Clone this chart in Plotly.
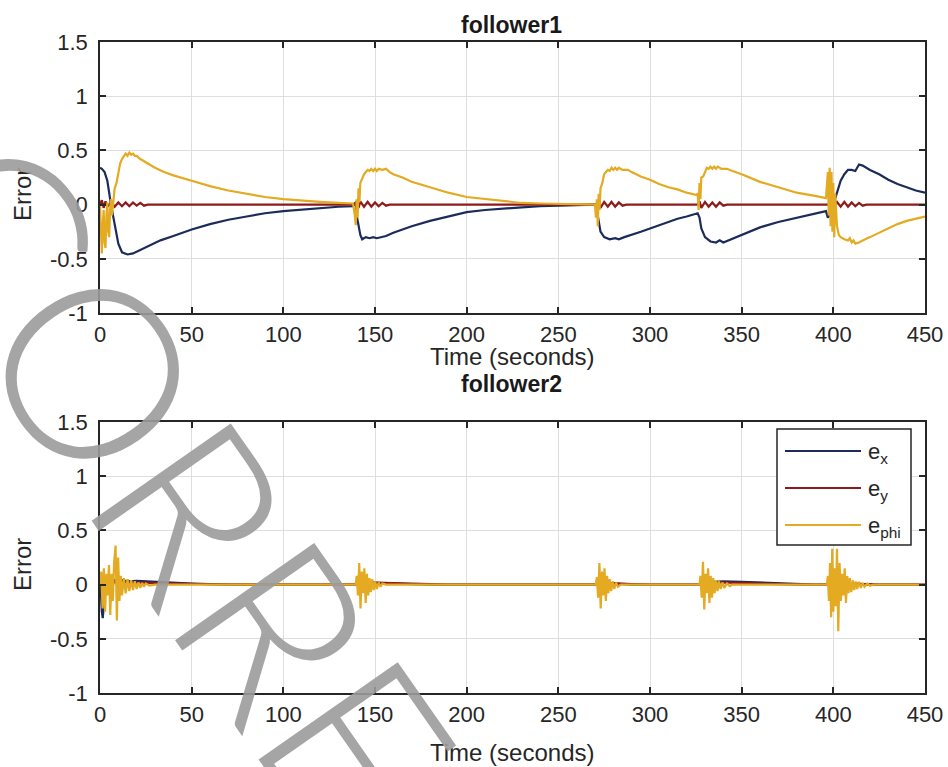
import plotly.graph_objects as go

# ---------------- data: follower1 ----------------
f1_ex_t = [0, 1, 2.5, 4, 6, 8, 10, 12, 15, 18, 22, 27, 33, 40, 50, 60, 70, 80, 90, 100, 110, 120, 130, 138,
           139.5, 140, 141, 142, 143, 145, 147, 149, 151, 153, 156, 160, 165, 170, 180, 190, 200, 210, 220, 230, 240, 250, 260, 270,
           271, 272, 273, 275, 278, 281, 283, 286, 290, 295, 300, 305, 310, 315, 320, 325, 326,
           327, 328, 330, 333, 336, 338, 340, 343, 350, 360, 370, 380, 390, 396,
           397, 398, 400, 402, 404, 406, 408, 410, 412, 414, 416, 420, 425, 430, 435, 440, 445, 450]
f1_ex_v = [0.34, 0.33, 0.30, 0.22, 0.0, -0.2, -0.36, -0.44, -0.46, -0.45, -0.42, -0.38, -0.33, -0.29, -0.23, -0.18, -0.14, -0.11, -0.08, -0.06, -0.045, -0.03, -0.02, -0.015,
           0.02, -0.1, -0.2, -0.28, -0.32, -0.30, -0.31, -0.30, -0.31, -0.30, -0.29, -0.26, -0.23, -0.20, -0.15, -0.11, -0.07, -0.05, -0.035, -0.025, -0.015, -0.01, -0.005, 0.0,
           -0.05, -0.15, -0.25, -0.30, -0.32, -0.31, -0.32, -0.30, -0.28, -0.25, -0.22, -0.19, -0.16, -0.13, -0.11, -0.09, -0.08,
           -0.12, -0.22, -0.30, -0.34, -0.35, -0.33, -0.35, -0.33, -0.28, -0.21, -0.16, -0.12, -0.08, -0.06,
           -0.12, -0.10, 0.0, 0.12, 0.22, 0.28, 0.32, 0.32, 0.31, 0.37, 0.36, 0.32, 0.28, 0.23, 0.19, 0.16, 0.13, 0.11]

f1_ey_t = [0, 1, 2, 3, 4, 6, 8, 10, 12, 14, 16, 18, 20, 22, 24, 26,
           139, 140, 141, 142, 144, 146, 148, 150, 152, 154, 156, 158,
           271, 272, 273, 275, 277, 279, 281, 283, 285, 287,
           326, 327, 328, 330, 332, 334, 336, 338, 340, 342,
           398, 399, 400, 402, 404, 406, 408, 410, 412, 414, 416, 418, 450]
f1_ey_v = [0.0, 0.04, -0.03, 0.03, -0.02, 0.02, -0.02, 0.02, -0.015, 0.02, -0.015, 0.02, -0.01, 0.015, -0.01, 0.0,
           0.0, 0.03, -0.03, 0.03, -0.02, 0.025, -0.02, 0.02, -0.015, 0.015, -0.01, 0.0,
           0.0, 0.03, -0.03, 0.025, -0.02, 0.025, -0.02, 0.02, -0.01, 0.0,
           0.0, 0.03, -0.03, 0.025, -0.02, 0.02, -0.02, 0.02, -0.01, 0.0,
           0.0, 0.03, -0.03, 0.025, -0.02, 0.025, -0.02, 0.02, -0.015, 0.015, -0.01, 0.0, 0.0]

f1_ephi_t = [0, 0.5, 1, 1.5, 2, 2.5, 3, 3.5, 4, 4.5, 5, 5.5, 6, 6.5, 7, 8, 9, 10, 11, 12, 13, 14, 15, 16, 17, 18, 19, 20, 22, 25, 30, 35, 40,
             50, 60, 70, 80, 90, 100, 110, 120, 130, 138,
             139, 139.5, 140, 140.5, 141, 141.5, 142, 143, 144, 145, 146, 147, 148, 149, 150, 151, 152, 154, 156, 158, 160, 165, 170,
             180, 190, 200, 210, 220, 230, 240, 250, 260, 270,
             270.5, 271, 271.5, 272, 272.5, 273, 274, 275, 276, 277, 278, 279, 280, 281, 282, 283, 285, 288, 290, 295, 300, 305, 310, 315, 320, 325,
             326, 326.5, 327, 327.5, 328, 329, 330, 331, 332, 333, 334, 335, 336, 337, 339, 342, 345, 350, 360, 370, 380, 390, 396,
             397, 397.5, 398, 398.5, 399, 399.5, 400, 400.5, 401, 402, 403, 404, 406, 408, 409, 410, 411, 412, 414, 416, 420, 425, 430, 435, 440, 445, 450]
f1_ephi_v = [0.0, -0.3, -0.45, -0.2, -0.05, -0.35, -0.4, -0.1, 0.02, -0.25, -0.3, -0.05, 0.05, -0.1, 0.0, 0.15, 0.2, 0.3, 0.38, 0.42, 0.45, 0.47, 0.45, 0.48, 0.46, 0.47, 0.45, 0.45, 0.42, 0.39, 0.34, 0.30, 0.27,
             0.22, 0.17, 0.13, 0.10, 0.07, 0.05, 0.035, 0.025, 0.015, 0.01,
             -0.1, -0.19, 0.05, -0.12, 0.15, 0.02, 0.2, 0.25, 0.28, 0.30, 0.32, 0.31, 0.33, 0.31, 0.33, 0.31, 0.33, 0.32, 0.33, 0.30, 0.28, 0.25, 0.21,
             0.16, 0.11, 0.07, 0.05, 0.03, 0.015, 0.01, 0.005, 0.0, 0.0,
             -0.12, 0.05, -0.2, 0.1, -0.05, 0.15, 0.2, 0.28, 0.30, 0.32, 0.31, 0.34, 0.32, 0.34, 0.32, 0.34, 0.32, 0.32, 0.30, 0.26, 0.23, 0.19, 0.16, 0.14, 0.11, 0.09,
             0.10, -0.05, 0.2, 0.05, 0.25, 0.26, 0.30, 0.34, 0.33, 0.35, 0.33, 0.35, 0.33, 0.35, 0.33, 0.33, 0.31, 0.28, 0.21, 0.16, 0.11, 0.08, 0.06,
             0.30, -0.1, 0.34, -0.2, 0.30, -0.25, 0.2, -0.3, 0.1, -0.2, -0.28, -0.30, -0.32, -0.33, -0.31, -0.35, -0.33, -0.36, -0.35, -0.33, -0.30, -0.26, -0.22, -0.18, -0.15, -0.13, -0.11]

# ---------------- data: follower2 ----------------
f2_ex_t = [0, 0.5, 1, 1.5, 2, 3, 4, 6, 8, 10, 12, 15, 20, 25, 30, 40, 50, 60, 70,
           140, 142, 145, 150, 160, 170, 180, 272, 274, 280, 290,
           328, 330, 335, 340, 350, 360, 370, 380, 390, 398, 400, 403, 406, 410, 420, 450]
f2_ex_v = [0.1, -0.1, -0.25, -0.31, -0.2, 0.0, 0.05, 0.0, 0.04, 0.02, 0.04, 0.03, 0.035, 0.03, 0.025, 0.015, 0.01, 0.005, 0.0,
           0.0, 0.03, 0.02, 0.015, 0.01, 0.005, 0.0, 0.0, 0.02, 0.01, 0.0,
           0.0, 0.03, 0.025, 0.03, 0.025, 0.018, 0.01, 0.005, 0.0, 0.0, 0.03, -0.03, 0.02, 0.01, 0.0, 0.0]

f2_ey_t = [0, 1, 2, 3, 5, 8, 15, 25, 40, 60, 80, 140, 145, 155, 170, 190, 272, 277, 290, 300,
           328, 335, 350, 365, 380, 399, 402, 410, 425, 450]
f2_ey_v = [0.0, 0.05, -0.05, 0.03, 0.01, 0.02, 0.02, 0.015, 0.01, 0.003, 0.0, 0.0, 0.02, 0.015, 0.008, 0.0, 0.0, 0.015, 0.005, 0.0,
           0.0, 0.02, 0.015, 0.008, 0.0, 0.0, 0.02, 0.01, 0.0, 0.0]

f2_ephi_t = [0, 0.7, 1.4, 2.1, 2.8, 3.5, 4.2, 4.9, 5.6, 6.3, 7, 7.7, 8.5, 9.2, 9.9, 10.6, 11.3, 12, 13, 14, 15, 16, 17, 18, 19, 20, 21, 22, 23, 24, 25, 27, 30,
             139.5, 140, 140.7, 141.4, 142.1, 142.8, 143.5, 144.2, 144.9, 145.6, 146.3, 147, 147.7, 148.5, 149.3, 150.1, 151, 152, 153, 154, 156,
             270.5, 271, 271.7, 272.4, 273.1, 273.8, 274.5, 275.2, 275.9, 276.6, 277.3, 278, 278.8, 279.6, 280.5, 281.5, 282.5, 284,
             327, 327.5, 328.2, 328.9, 329.6, 330.3, 331, 331.7, 332.4, 333.1, 333.8, 334.5, 335.2, 336, 336.8, 337.6, 338.5, 339.5, 340.5, 342, 343.5, 345,
             396.5, 397, 397.6, 398.2, 398.8, 399.4, 400, 400.6, 401.3, 402, 402.7, 403.4, 404.1, 404.8, 405.5, 406.2, 406.9, 407.6, 408.3, 409, 409.8,
             410.6, 411.4, 412.2, 413, 414, 415, 416, 417, 418.5, 420, 422, 450]
f2_ephi_v = [0.0, 0.12, -0.22, 0.15, -0.25, 0.1, -0.1, 0.18, -0.28, 0.1, -0.15, 0.2, 0.36, -0.33, 0.25, -0.15, 0.08, -0.1, 0.06, -0.08, 0.05, -0.06, 0.04, -0.05, 0.03, -0.04, 0.02, -0.03, 0.015, -0.02, 0.01, -0.01, 0.0,
             0.0, 0.08, -0.1, 0.2, -0.22, 0.12, -0.08, 0.15, -0.17, 0.1, -0.1, 0.06, -0.07, 0.05, -0.05, 0.03, -0.04, 0.02, -0.02, 0.01, 0.0,
             0.0, 0.07, -0.12, 0.2, -0.22, 0.12, -0.1, 0.15, -0.15, 0.08, -0.08, 0.05, -0.06, 0.03, -0.04, 0.02, -0.02, 0.0,
             0.0, 0.08, -0.12, 0.21, -0.23, 0.1, -0.08, 0.15, -0.17, 0.08, -0.12, 0.06, -0.08, 0.04, -0.06, 0.03, -0.04, 0.02, -0.03, 0.01, -0.015, 0.0,
             0.0, 0.08, -0.15, 0.2, -0.3, 0.33, -0.25, 0.15, -0.2, 0.33, -0.43, 0.2, -0.15, 0.1, -0.1, 0.15, -0.17, 0.08, -0.08, 0.06, -0.07,
             0.04, -0.05, 0.03, -0.04, 0.025, -0.03, 0.015, -0.02, 0.01, -0.01, 0.0, 0.0]

series_names = ["e<sub>x</sub>", "e<sub>y</sub>", "e<sub>phi</sub>"]
series_colors = ["#1c2c5a", "#8e1b1b", "#e3aa22"]
x_ticks = [0, 50, 100, 150, 200, 250, 300, 350, 400, 450]
y_ticks = [-1, -0.5, 0, 0.5, 1, 1.5]
y_tick_text = ["-1", "-0.5", "0", "0.5", "1", "1.5"]

W, H = 948, 767
def px_x(p): return p / W
def px_y(p): return 1 - p / H

fig = go.Figure()
panels = [
    ("x", "y", [(f1_ex_t, f1_ex_v), (f1_ey_t, f1_ey_v), (f1_ephi_t, f1_ephi_v)]),
    ("x2", "y2", [(f2_ex_t, f2_ex_v), (f2_ey_t, f2_ey_v), (f2_ephi_t, f2_ephi_v)]),
]
for xa, ya, data in panels:
    for (t, v), name, col in zip(data, series_names, series_colors):
        fig.add_trace(go.Scatter(x=t, y=v, mode="lines", name=name, xaxis=xa, yaxis=ya,
                                 line=dict(color=col, width=2.2), showlegend=False))

font_main = "Liberation Sans, Arial, sans-serif"
ink = "#262626"
axis_common = dict(showline=True, linecolor=ink, linewidth=1.5, mirror="ticks",
                   ticks="inside", ticklen=6, tickcolor=ink, tickwidth=1.5,
                   showgrid=True, gridcolor="#dedede", gridwidth=1, zeroline=False,
                   automargin=False,
                   tickfont=dict(family=font_main, size=22, color=ink))
xdom = [px_x(100), px_x(925)]
fig.update_layout(
    width=W, height=H, margin=dict(l=0, r=0, t=0, b=0, autoexpand=False),
    paper_bgcolor="white", plot_bgcolor="white", showlegend=False,
    xaxis=dict(domain=xdom, range=[0, 450], tickvals=x_ticks, anchor="y", ticklabelstandoff=1, **axis_common),
    yaxis=dict(domain=[px_y(313), px_y(42)], range=[-1, 1.5], tickvals=y_ticks, ticktext=y_tick_text, anchor="x", ticklabelstandoff=6, **axis_common),
    xaxis2=dict(domain=xdom, range=[0, 450], tickvals=x_ticks, anchor="y2", ticklabelstandoff=1, **axis_common),
    yaxis2=dict(domain=[px_y(693), px_y(422)], range=[-1, 1.5], tickvals=y_ticks, ticktext=y_tick_text, anchor="x2", ticklabelstandoff=6, **axis_common),
)

# legend box (drawn manually to match MATLAB's long line samples)
shapes = [dict(type="rect", xref="paper", yref="paper", x0=px_x(777), x1=px_x(911), y0=px_y(545), y1=px_y(429),
               line=dict(color=ink, width=1.5), fillcolor="white", layer="above")]
ann = []
leg_rows = [451, 488, 525]
for yy, name, col in zip(leg_rows, series_names, series_colors):
    shapes.append(dict(type="line", xref="paper", yref="paper", x0=px_x(785), x1=px_x(861), y0=px_y(yy), y1=px_y(yy),
                       line=dict(color=col, width=2.2), layer="above"))
    ann.append(dict(text=name, x=px_x(866), y=px_y(yy + 2), xref="paper", yref="paper", showarrow=False,
                    xanchor="left", yanchor="middle", font=dict(family=font_main, size=22, color=ink)))

for txt, y in [("<b>follower1</b>", 25), ("<b>follower2</b>", 384)]:
    ann.append(dict(text=txt, x=px_x(512), y=px_y(y), xref="paper", yref="paper", showarrow=False,
                    yanchor="middle", font=dict(family=font_main, size=23, color="#1a1a1a")))
for y in [357, 752]:
    ann.append(dict(text="Time (seconds)", x=px_x(512), y=px_y(y), xref="paper", yref="paper", showarrow=False,
                    yanchor="middle", font=dict(family=font_main, size=24, color=ink)))
for y in [195, 565]:
    ann.append(dict(text="Error", x=px_x(22), y=px_y(y), xref="paper", yref="paper", showarrow=False,
                    xanchor="center", yanchor="middle", textangle=-90, font=dict(family=font_main, size=24, color=ink)))
# watermark
ann.append(dict(text="CORREC", x=px_x(222), y=px_y(545), xref="paper", yref="paper", showarrow=False,
                xanchor="center", yanchor="middle",
                textangle=55, font=dict(family="Lato", size=240, weight=300, color="rgba(155,155,155,0.9)")))
fig.update_layout(annotations=ann, shapes=shapes)

fig.write_html("out.html")
